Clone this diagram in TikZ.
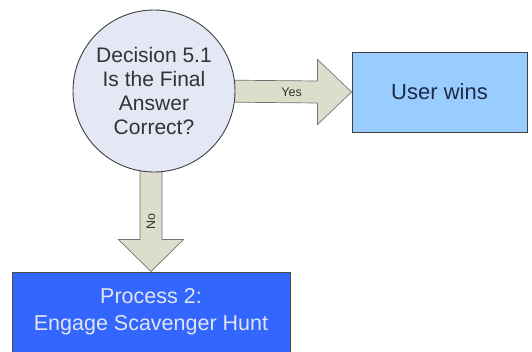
\documentclass[tikz,border=0pt]{standalone}
\usepackage{fontspec}
\setmainfont{Liberation Sans}
\usetikzlibrary{calc}
\pgfdeclarelayer{background}
\pgfsetlayers{background,main}

\definecolor{decfill}{RGB}{228,232,245}
\definecolor{arrowfill}{RGB}{221,221,204}
\definecolor{winfill}{RGB}{153,204,255}
\definecolor{procfill}{RGB}{51,102,255}
\definecolor{edge}{RGB}{64,64,64}
\definecolor{wintext}{RGB}{30,42,70}
\definecolor{proctext}{RGB}{225,228,240}

\tikzset{
  decision/.style={circle, draw=edge, line width=0.9pt, fill=decfill, inner sep=0pt,
    minimum size=162pt, align=center, text=black!80,
    font=\fontsize{21}{24}\selectfont},
  winbox/.style={rectangle, draw=edge, line width=0.9pt, fill=winfill,
    minimum width=175pt, minimum height=80pt, text=wintext,
    font=\fontsize{22}{24}\selectfont},
  procbox/.style={rectangle, draw=black!70, line width=0.9pt, fill=procfill,
    minimum width=278pt, minimum height=80pt, align=center, text=proctext,
    font=\fontsize{21.5}{27}\selectfont},
  blockarrow/.style={draw=black!55, line width=0.7pt, fill=arrowfill, line join=miter},
  arrowlabel/.style={font=\fontsize{12.5}{14}\selectfont, text=black!80, inner sep=0pt}
}

\begin{document}
\begin{tikzpicture}[x=1pt,y=-1pt]
  \useasboundingbox (0,0) rectangle (532,351);

  % nodes
  \node[decision] (dec) at (154,91) {Decision 5.1\\Is the Final\\Answer\\Correct?};
  \node[winbox] (win) at (439.5,92) {User wins};
  \node[procbox] (proc) at (151,312) {Process 2:\\Engage Scavenger Hunt};

  % block arrows, behind the decision circle
  \begin{pgfonlayer}{background}
    % Yes: decision -> user wins
    \draw[blockarrow]
      ($(dec.center)+(60,-11)$) -- ($(win.west)+(-34,-11)$) -- ($(win.west)+(-34,-32.5)$)
      -- (win.west)
      -- ($(win.west)+(-34,32.5)$) -- ($(win.west)+(-34,11)$) -- ($(dec.center)+(60,11)$) -- cycle;
    % No: decision -> process 2
    \draw[blockarrow]
      ($(proc.north)+(-11,-110)$) -- ($(proc.north)+(-11,-32)$) -- ($(proc.north)+(-32.5,-32)$)
      -- (proc.north)
      -- ($(proc.north)+(32.5,-32)$) -- ($(proc.north)+(11,-32)$) -- ($(proc.north)+(11,-110)$) -- cycle;
  \end{pgfonlayer}

  % arrow labels
  \node[arrowlabel] (yes) at ($(win.west)+(-60,0)$) {Yes};
  \node[arrowlabel, rotate=90] (no) at ($(proc.north)+(0,-50)$) {No};
\end{tikzpicture}
\end{document}
